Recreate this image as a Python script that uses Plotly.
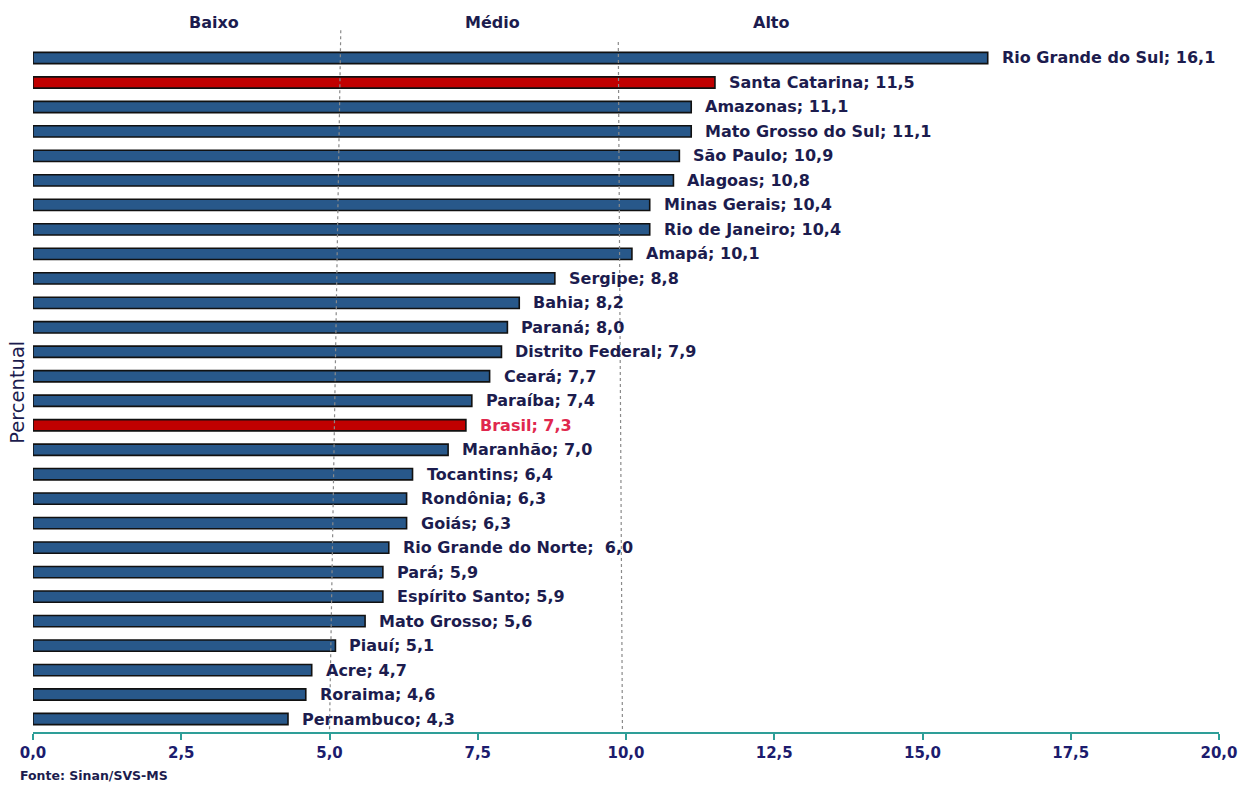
import plotly.graph_objects as go

# Estados (de cima para baixo) e percentuais
estados = [
    "Rio Grande do Sul", "Santa Catarina", "Amazonas", "Mato Grosso do Sul",
    "São Paulo", "Alagoas", "Minas Gerais", "Rio de Janeiro", "Amapá",
    "Sergipe", "Bahia", "Paraná", "Distrito Federal", "Ceará", "Paraíba",
    "Brasil", "Maranhão", "Tocantins", "Rondônia", "Goiás",
    "Rio Grande do Norte", "Pará", "Espírito Santo", "Mato Grosso", "Piauí",
    "Acre", "Roraima", "Pernambuco",
]
percentual = [
    16.1, 11.5, 11.1, 11.1, 10.9, 10.8, 10.4, 10.4, 10.1,
    8.8, 8.2, 8.0, 7.9, 7.7, 7.4, 7.3, 7.0, 6.4, 6.3, 6.3,
    6.0, 5.9, 5.9, 5.6, 5.1, 4.7, 4.6, 4.3,
]
destaques = ["Santa Catarina", "Brasil"]
faixas = ["Baixo", "Médio", "Alto"]
tick_vals = [0, 2.5, 5, 7.5, 10, 12.5, 15, 17.5, 20]

AZUL = "#28588a"
VERMELHO = "#c00000"
TEXTO = "#1c1c4e"
TEXTO_BRASIL = "#e0284e"
TEAL = "#2e9e98"
FONTE = "DejaVu Sans"

# ordem de baixo para cima no eixo categórico
cats = estados[::-1]
vals = percentual[::-1]
cores = [VERMELHO if c in destaques else AZUL for c in cats]

fig = go.Figure(go.Bar(
    x=vals, y=cats, orientation="h",
    marker=dict(color=cores, line=dict(color="#111111", width=1.6)),
    width=0.46, hoverinfo="skip",
))

anns = []
for c, v in zip(cats, vals):
    sep = ";\u00a0\u00a0" if c == "Rio Grande do Norte" else "; "
    txt = f"{c}{sep}{v:.1f}".replace(".", ",")
    anns.append(dict(
        x=v, y=c, xref="x", yref="y", text=f"<b>{txt}</b>", showarrow=False,
        xanchor="left", yanchor="middle", xshift=12,
        font=dict(family=FONTE, size=16,
                  color=TEXTO_BRASIL if c == "Brasil" else TEXTO),
    ))

# rótulos das faixas no topo
for nome, xpos in zip(faixas, [3.05, 7.75, 12.45]):
    anns.append(dict(
        x=xpos, y=1.025, xref="x", yref="paper", text=f"<b>{nome}</b>",
        showarrow=False, xanchor="center", yanchor="middle",
        font=dict(family=FONTE, size=16, color=TEXTO),
    ))

anns.append(dict(
    x=-0.013, y=0.491, xref="paper", yref="paper", text="Percentual",
    showarrow=False, textangle=-90, xanchor="center", yanchor="middle",
    font=dict(family=FONTE, size=19.5, color=TEXTO),
))
anns.append(dict(
    x=-0.0127, y=-0.063, xref="paper", yref="paper",
    text="<b>Fonte: Sinan/SVS-MS</b>", showarrow=False,
    xanchor="left", yanchor="middle",
    font=dict(family=FONTE, size=12.5, color=TEXTO),
))

# linhas pontilhadas separando as faixas
shapes = [
    dict(type="line", xref="x", yref="paper", x0=5.19, x1=5.0, y0=1.014, y1=0.003,
         line=dict(color="#8a8a8a", width=1.2, dash="dot")),
    dict(type="line", xref="x", yref="paper", x0=9.87, x1=9.94, y0=0.997, y1=0.003,
         line=dict(color="#8a8a8a", width=1.2, dash="dot")),
]

fig.update_layout(
    width=1239, height=786,
    margin=dict(l=33, r=20, t=40, b=54, autoexpand=False),
    paper_bgcolor="white", plot_bgcolor="white",
    separators=",.",
    showlegend=False,
    annotations=anns,
    shapes=shapes,
    bargap=0.5,
    xaxis=dict(
        range=[0, 20], tickvals=tick_vals, tickformat=".1f",
        showgrid=False, zeroline=False, automargin=False,
        showline=True, linecolor=TEAL, linewidth=2,
        ticks="outside", ticklen=6, tickwidth=2, tickcolor=TEAL,
        tickfont=dict(family=FONTE, size=15, color="#1c1c6e", weight="bold"),
        fixedrange=True,
    ),
    yaxis=dict(
        range=[-0.53, 27.735], showticklabels=False, showgrid=False,
        zeroline=False, showline=False, ticks="", fixedrange=True,
        automargin=False,
    ),
)

fig.write_html("out.html")
